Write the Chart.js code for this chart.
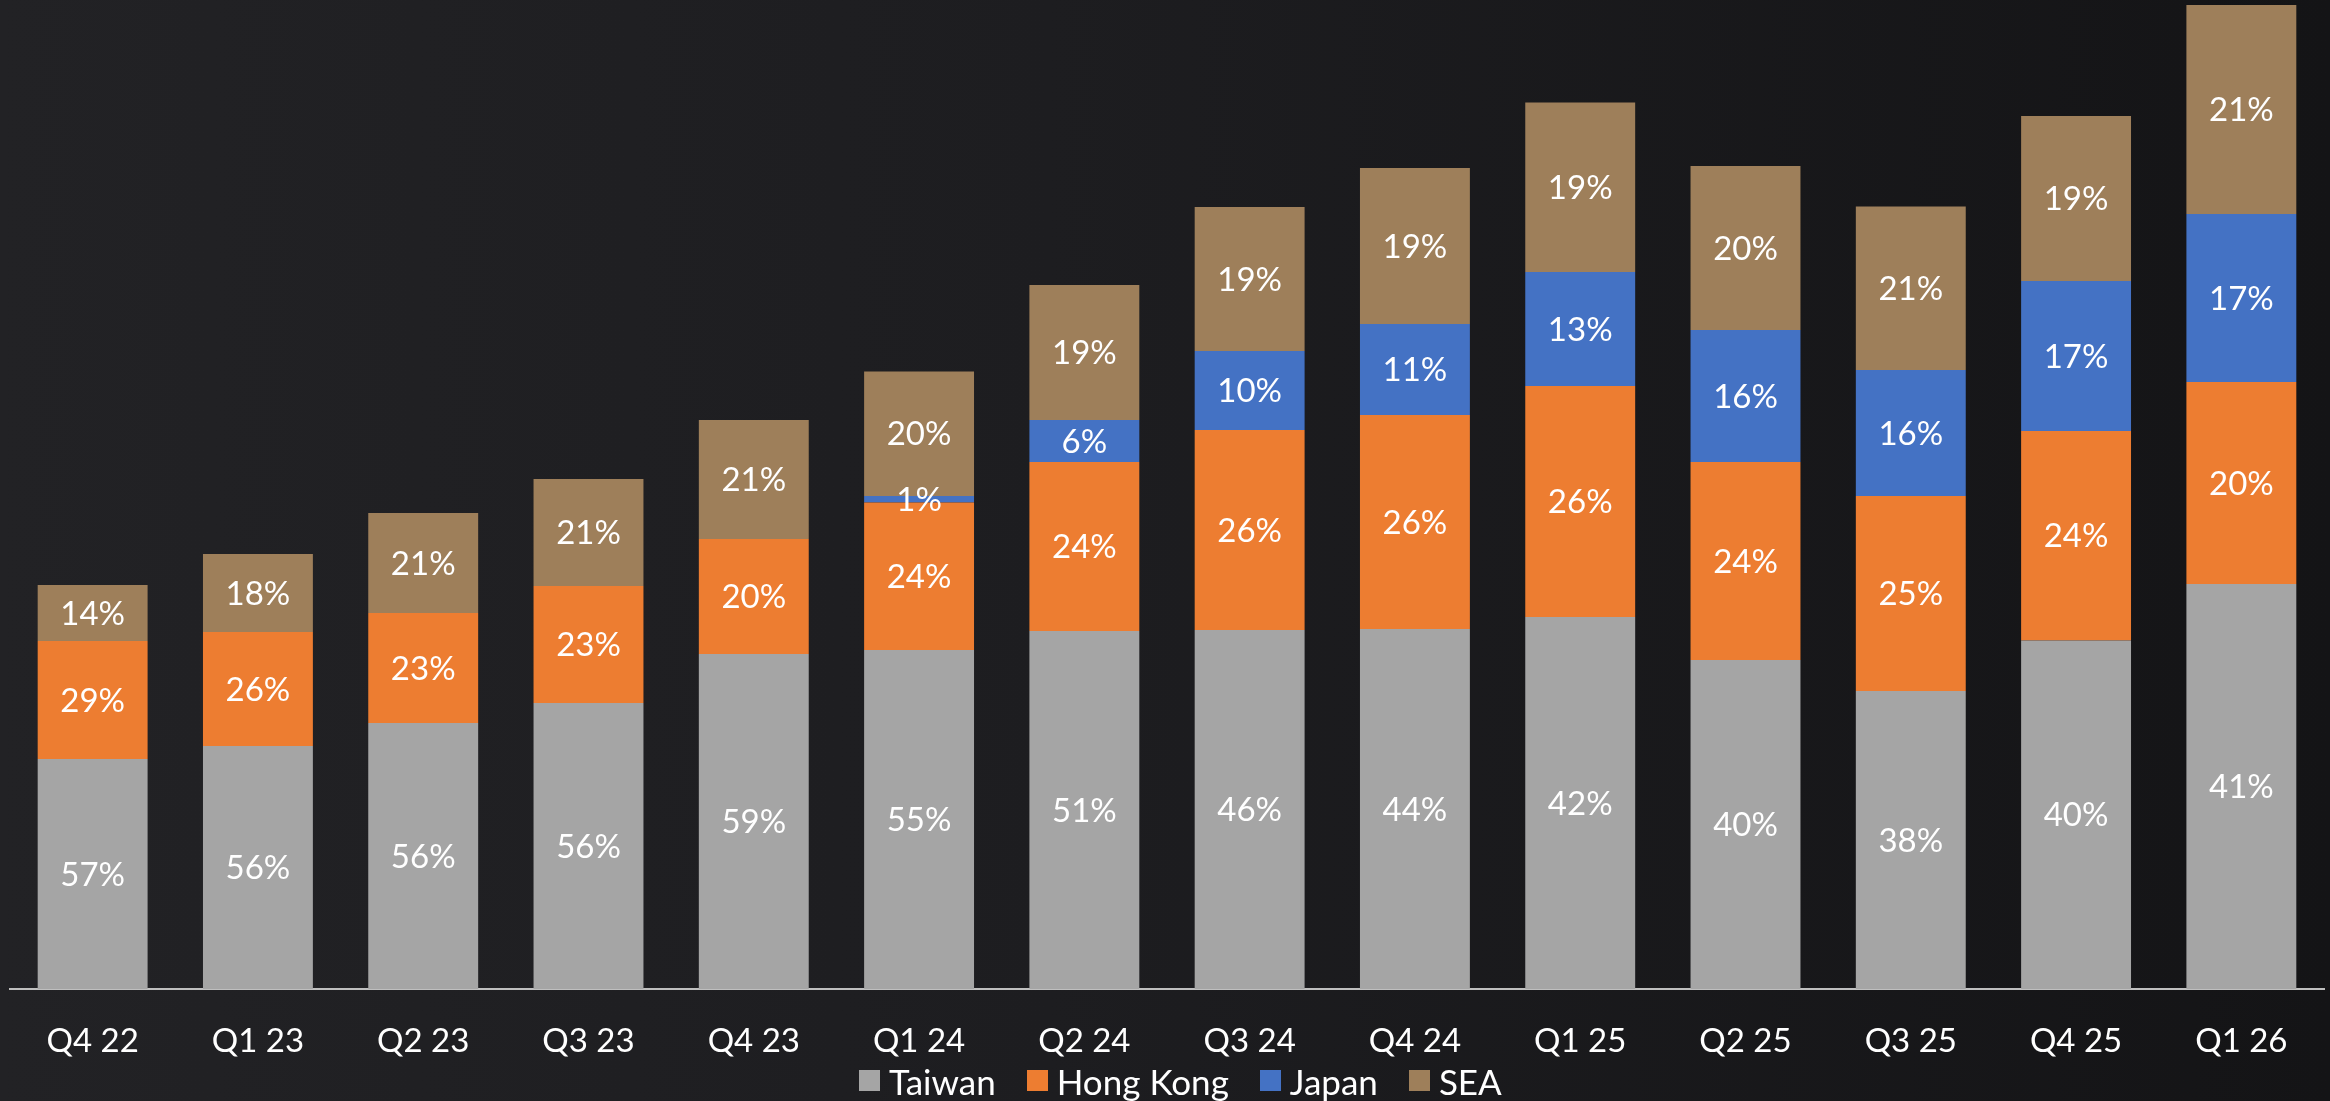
<!DOCTYPE html>
<html>
<head>
<meta charset="utf-8">
<script src="https://cdn.jsdelivr.net/npm/chart.js@4.4.1/dist/chart.umd.min.js"></script>
<style>
  html, body { margin: 0; padding: 0; }
  body {
    width: 2330px; height: 1101px; overflow: hidden; position: relative;
    background: linear-gradient(to right, #222225 0%, #1d1d20 45%, #141416 100%);
    font-family: Lato, "Open Sans", sans-serif;
  }
  #wrap { position: absolute; left: 0; top: 0; width: 2330px; height: 1101px; }
  #legend {
    position: absolute; left: 859px; top: 1064px;
    display: flex; align-items: flex-start; color: #fff;
    font-size: 35px; line-height: 35px; white-space: nowrap;
  }
  .item { display: flex; align-items: flex-start; margin-right: 31px; }
  .sw { width: 21px; height: 21px; margin-top: 6px; margin-right: 9px; }
</style>
</head>
<body>
<div id="wrap"><canvas id="chart" width="2330" height="1101"></canvas></div>
<div id="legend"></div>
<script>
// quarters
const quarters = ["Q4 22","Q1 23","Q2 23","Q3 23","Q4 23","Q1 24","Q2 24","Q3 24","Q4 24","Q1 25","Q2 25","Q3 25","Q4 25","Q1 26"];

// segment sizes
const taiwan   = [230, 243, 266, 286, 335, 339, 358, 359, 360, 372, 329, 298, 348.5, 405];
const hongKong = [118, 114, 110, 117, 115, 147.5, 169, 200, 214, 231, 198, 195, 209.5, 202];
const japan    = [null, null, null, null, null, 6.5, 42, 79, 91, 114, 132, 126, 150, 168];
const sea      = [56, 78, 100, 107, 119, 124.5, 135, 144, 156, 169.5, 164, 163.5, 165, 209];

// share labels printed on the bars
const taiwanPct   = [57, 56, 56, 56, 59, 55, 51, 46, 44, 42, 40, 38, 40, 41];
const hongKongPct = [29, 26, 23, 23, 20, 24, 24, 26, 26, 26, 24, 25, 24, 20];
const japanPct    = [null, null, null, null, null, 1, 6, 10, 11, 13, 16, 16, 17, 17];
const seaPct      = [14, 18, 21, 21, 21, 20, 19, 19, 19, 19, 20, 21, 19, 21];

const FONT = "Lato, 'Open Sans', sans-serif";

const series = [
  { label: "Taiwan",    data: taiwan,   pct: taiwanPct,   color: "#A5A5A5" },
  { label: "Hong Kong", data: hongKong, pct: hongKongPct, color: "#ED7D31" },
  { label: "Japan",     data: japan,    pct: japanPct,    color: "#4472C4" },
  { label: "SEA",       data: sea,      pct: seaPct,      color: "#9E7F5A" },
];

// labels in the middle of each segment
const segLabels = {
  id: "segLabels",
  afterDatasetsDraw(chart) {
    const ctx = chart.ctx;
    ctx.save();
    ctx.fillStyle = "#ffffff";
    ctx.font = "33px " + FONT;
    ctx.textAlign = "center";
    ctx.textBaseline = "middle";
    chart.data.datasets.forEach((ds, i) => {
      const meta = chart.getDatasetMeta(i);
      meta.data.forEach((bar, j) => {
        const p = ds.pct[j];
        if (p == null || ds.data[j] == null) return;
        ctx.fillText(p + "%", bar.x, (bar.y + bar.base) / 2 + 1);
      });
    });
    ctx.restore();
  }
};

const chart = new Chart(document.getElementById("chart"), {
  type: "bar",
  data: {
    labels: quarters,
    datasets: series.map(s => ({
      label: s.label, data: s.data, pct: s.pct,
      backgroundColor: s.color, borderWidth: 0,
      barPercentage: 0.665, categoryPercentage: 1.0,
    })),
  },
  options: {
    responsive: false,
    devicePixelRatio: 1,
    animation: false,
    layout: { padding: { left: 10, right: 6, top: 0, bottom: 0 } },
    plugins: { legend: { display: false }, tooltip: { enabled: false } },
    scales: {
      x: {
        stacked: true,
        grid: { display: false, drawTicks: false },
        border: { display: true, color: "#BFBFBF", width: 2 },
        ticks: { color: "#ffffff", font: { family: FONT, size: 33 }, padding: 33, maxRotation: 0, autoSkip: false },
        afterFit: (s) => { s.height = 112; },
      },
      y: { stacked: true, display: false, min: 0, max: 989 },
    },
  },
  plugins: [segLabels],
});

// legend
const legend = document.getElementById("legend");
series.forEach(s => {
  const it = document.createElement("div");
  it.className = "item";
  it.innerHTML = `<div class="sw" style="background:${s.color}"></div><span>${s.label}</span>`;
  legend.appendChild(it);
});
</script>
</body>
</html>
